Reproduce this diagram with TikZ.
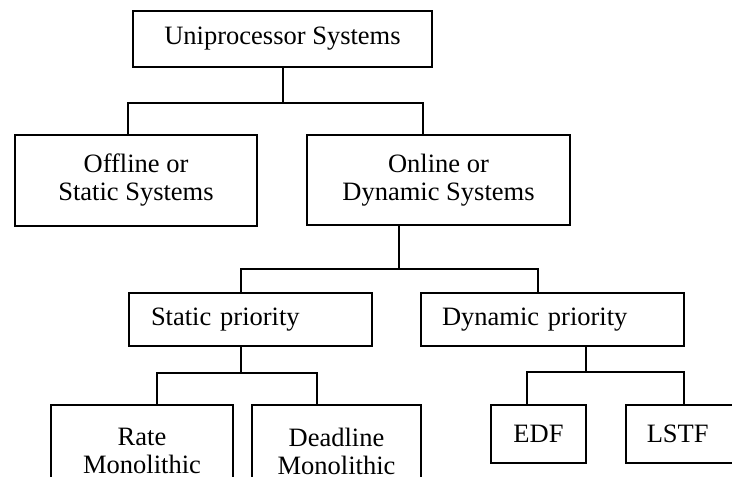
\documentclass[tikz,border=0pt]{standalone}
\usepackage{fontspec}
\setmainfont{Liberation Serif}
\begin{document}
\begin{tikzpicture}[x=1pt,y=-1pt,line width=1.5pt,line join=miter,
	font=\fontsize{26.5}{28}\selectfont,
	box/.style={draw,rectangle,align=center,inner sep=0pt},
	lbox/.style={draw,rectangle,align=left,inner ysep=0pt}]
	\useasboundingbox (0,0) rectangle (732,477);
	\clip (0,0) rectangle (732,477);
	% boxes
	\node[box,minimum width=299pt,minimum height=56pt] (uni) at (282.5,39) {Uniprocessor Systems};
	\node[box,minimum width=242pt,minimum height=91pt] (offline) at (136,180.5) {Offline or\\Static Systems};
	\node[box,minimum width=263pt,minimum height=90pt] (online) at (438.5,180) {Online or\\Dynamic Systems};
	\node[lbox,text width=199pt,inner xsep=22pt,minimum height=53pt] (static) at (250.5,319.5) {Static priority};
	\node[lbox,text width=221pt,inner xsep=21pt,minimum height=53pt] (dynamic) at (552.5,319.5) {Dynamic priority};
	\node[box,minimum width=182pt,minimum height=92pt] (rate) at (142,451) {Rate\\Monolithic};
	\node[box,minimum width=169pt,minimum height=92pt] (deadline) at (336.5,451) {Deadline\\Monolithic};
	\node[box,minimum width=95pt,minimum height=58pt] (edf) at (538.5,434) {EDF};
	\node[lbox,text width=78pt,inner xsep=21pt,minimum height=58pt,anchor=west] (lstf) at (625,434) {LSTF};
	% branch points
	\coordinate (j1) at (283,103);
	\coordinate (j2) at (399,269);
	\coordinate (j3) at (241,373);
	\coordinate (j4) at (586,372);
	% connectors
	\draw (uni.south -| j1) -- (j1);
	\draw ([xshift=-8pt]offline.north) |- (j1) -| ([xshift=-15.5pt]online.north);
	\draw (online.south -| j2) -- (j2);
	\draw ([xshift=-9.5pt]static.north) |- (j2) -| ([xshift=-14.5pt]dynamic.north);
	\draw (static.south -| j3) -- (j3);
	\draw ([xshift=15pt]rate.north) |- (j3) -| ([xshift=-19.5pt]deadline.north);
	\draw (dynamic.south -| j4) -- (j4);
	\draw ([xshift=-11.5pt]edf.north) |- (j4) -| ([xshift=59pt]lstf.north west);
\end{tikzpicture}
\end{document}
